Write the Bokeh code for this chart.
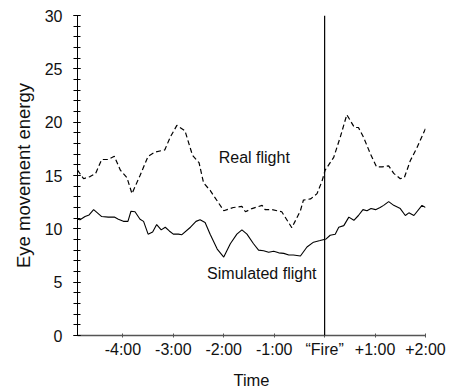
from bokeh.plotting import figure
from bokeh.models import FixedTicker, Span, Label
from bokeh.embed import file_html
from bokeh.resources import INLINE

# Time in minutes relative to "Fire"
real_t = [-4.9, -4.78, -4.65, -4.54, -4.42, -4.29, -4.17, -4.05, -3.92, -3.82, -3.66, -3.50,
          -3.36, -3.17, -3.06, -2.93, -2.77, -2.62, -2.49, -2.40, -2.27, -2.00, -1.81, -1.64,
          -1.57, -1.44, -1.24, -1.18, -1.04, -0.85, -0.65, -0.48, -0.42, -0.28, -0.15, -0.05,
          0.01, 0.18, 0.31, 0.44, 0.59, 0.67, 0.77, 0.91, 1.03, 1.14, 1.27, 1.37, 1.50, 1.58,
          1.70, 1.83, 2.00]
real_v = [15.5, 14.7, 14.9, 15.2, 16.5, 16.5, 16.8, 15.5, 14.8, 13.3, 15.0, 16.8,
          17.2, 17.4, 18.6, 19.7, 19.2, 16.9, 16.2, 14.3, 13.6, 11.7, 12.0, 12.1,
          11.6, 11.9, 12.2, 11.8, 11.8, 11.6, 10.1, 11.7, 12.7, 12.8, 13.3, 14.5,
          15.5, 16.7, 18.6, 20.7, 19.5, 19.5, 18.6, 17.0, 15.8, 15.8, 15.9, 15.2, 14.7, 14.8,
          16.4, 17.6, 19.4]

sim_t = [-4.9, -4.85, -4.75, -4.67, -4.58, -4.42, -4.29, -4.17, -4.09, -3.99, -3.90, -3.84,
         -3.76, -3.66, -3.59, -3.50, -3.41, -3.33, -3.24, -3.16, -3.08, -3.00, -2.90, -2.83,
         -2.66, -2.55, -2.47, -2.37, -2.27, -2.13, -2.00, -1.87, -1.74, -1.64, -1.54, -1.41,
         -1.31, -1.21, -1.11, -1.01, -0.91, -0.81, -0.71, -0.62, -0.48, -0.35, -0.22, -0.09,
         0.03, 0.11, 0.21, 0.28, 0.38, 0.48, 0.58, 0.67, 0.76, 0.84, 0.92, 1.01, 1.10, 1.17,
         1.27, 1.37, 1.50, 1.60, 1.67, 1.77, 1.93, 2.00]
sim_v = [10.9, 10.85, 11.15, 11.3, 11.8, 11.15, 11.1, 11.1, 10.9, 10.7, 10.7, 11.65,
         11.6, 10.9, 10.7, 9.5, 9.7, 10.4, 9.9, 10.15, 9.8, 9.5, 9.5, 9.45,
         10.15, 10.7, 10.85, 10.6, 9.5, 8.1, 7.35, 8.6, 9.5, 9.9, 9.5, 8.6,
         8.0, 7.95, 7.8, 7.9, 7.75, 7.7, 7.55, 7.55, 7.45, 8.3, 8.75, 8.9,
         9.05, 9.4, 9.5, 10.15, 10.3, 11.1, 10.8, 11.25, 11.8, 11.7, 11.9, 11.8, 12.0, 12.2,
         12.55, 12.2, 11.9, 11.25, 11.5, 11.25, 12.2, 12.0]

x_ticks = [-4, -3, -2, -1, 0, 1, 2]
x_tick_labels = ["-4:00", "-3:00", "-2:00", "-1:00", "\u201cFire\u201d", "+1:00", "+2:00"]
y_ticks = [0, 5, 10, 15, 20, 25, 30]

FONT = "Liberation Sans"

p = figure(width=450, height=391, x_range=(-4.9, 2.0), y_range=(0, 30),
           output_backend="svg", toolbar_location=None,
           min_border_left=77, min_border_right=25, min_border_top=15, min_border_bottom=56)
p.outline_line_color = None
p.xgrid.visible = False
p.ygrid.visible = False

p.line(real_t, real_v, line_color="black", line_width=1.2, line_dash="5 3")
p.line(sim_t, sim_v, line_color="black", line_width=1.1)

p.add_layout(Span(location=0, dimension="height", line_color="black", line_width=1.2))

p.add_layout(Label(x=-2.10, y=15.9, text="Real flight", text_font=FONT,
                   text_font_size="16px", text_color="#111111"))
p.add_layout(Label(x=-2.33, y=5.0, text="Simulated flight", text_font=FONT,
                   text_font_size="16px", text_color="#111111"))

# X axis
xa = p.xaxis[0]
xa.ticker = FixedTicker(ticks=x_ticks)
xa.major_label_overrides = {t: l for t, l in zip(x_ticks, x_tick_labels)}
xa.axis_line_color = "#555555"
xa.axis_line_width = 1.5
xa.major_tick_line_color = "#555555"
xa.major_tick_in = 2
xa.major_tick_out = 2
xa.minor_tick_line_color = None
xa.major_label_text_font = FONT
xa.major_label_text_font_size = "16px"
xa.major_label_text_color = "#111111"
xa.major_label_standoff = 3
xa.axis_label = "Time"
xa.axis_label_text_font = FONT
xa.axis_label_text_font_size = "16.5px"
xa.axis_label_text_font_style = "normal"
xa.axis_label_text_color = "#111111"
xa.axis_label_standoff = 10

# Y axis
ya = p.yaxis[0]
ya.ticker = FixedTicker(ticks=y_ticks, minor_ticks=list(range(0, 31)))
ya.axis_line_color = "black"
ya.major_tick_line_color = "black"
ya.minor_tick_line_color = "black"
ya.major_tick_in = 3
ya.major_tick_out = 4
ya.minor_tick_in = 3
ya.minor_tick_out = 4
ya.major_label_text_font = FONT
ya.major_label_text_font_size = "16px"
ya.major_label_text_color = "#111111"
ya.major_label_standoff = 11
ya.axis_label = "Eye movement energy"
ya.axis_label_text_font = FONT
ya.axis_label_text_font_size = "18.5px"
ya.axis_label_text_font_style = "normal"
ya.axis_label_text_color = "#111111"
ya.axis_label_standoff = 8

open("out.html", "w").write(file_html(p, INLINE))
